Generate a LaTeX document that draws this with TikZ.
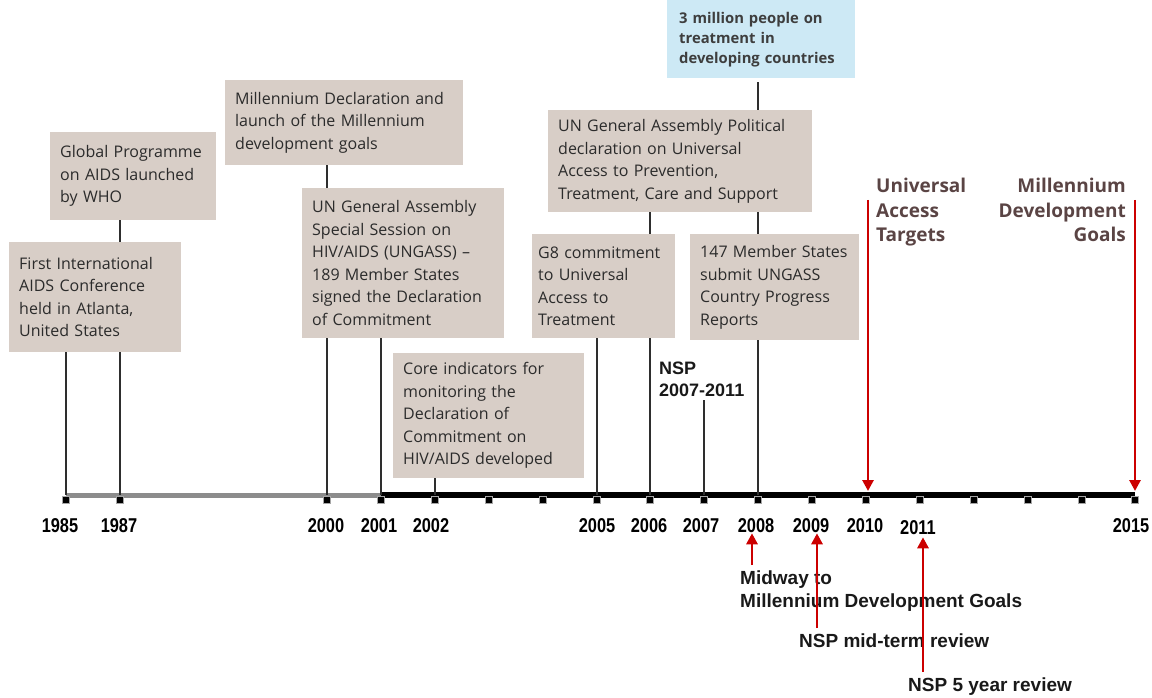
\documentclass[tikz,border=0pt]{standalone}
\usepackage{fontspec}
\usetikzlibrary{arrows.meta}
\newfontfamily\boxfont{Open Sans}
\newfontfamily\narrowfont[FakeStretch=0.82]{Liberation Sans}
\newfontfamily\arialfont{Liberation Sans}
\definecolor{boxfill}{HTML}{D8CEC7}
\definecolor{bluefill}{HTML}{CDE9F5}
\definecolor{boxtext}{HTML}{2B2B2B}
\definecolor{bluetext}{HTML}{3E3E3E}
\definecolor{goalbrown}{HTML}{5A4444}
\definecolor{arrowred}{HTML}{CC0000}
\definecolor{axisgray}{HTML}{8C8C8C}
\definecolor{linedark}{HTML}{2E2E2E}
\begin{document}
\begin{tikzpicture}[x=1pt,y=-1pt,
  box/.style={fill=boxfill, anchor=north west, align=left, inner xsep=10pt, inner ysep=0pt,
    text=boxtext, font=\boxfont\fontsize{16}{22.5}\selectfont},
  stem/.style={draw=linedark, line width=2.8pt},
  redarrow/.style={draw=arrowred, line width=2.8pt, -{Triangle[length=11pt,width=11pt]}},
  yearlab/.style={font=\narrowfont\bfseries\fontsize{20}{22}\selectfont, text=black, inner sep=0pt},
  bottomlab/.style={font=\arialfont\bfseries\fontsize{19}{22.5}\selectfont, align=left, anchor=north west, inner sep=0pt, text=black!90},
  goallab/.style={font=\boxfont\bfseries\fontsize{19}{24.5}\selectfont, text=goalbrown, inner sep=0pt},
  tickmark/.style={fill=black, draw=black!35, line width=0.7pt, minimum size=7pt, inner sep=0pt}
]
\useasboundingbox (0,0) rectangle (1152,698);

% tick coordinates on the axis
\foreach \yr/\xx in {1985/66,1987/120,2000/327,2001/381,2002/435,2003/489,2004/543,2005/597,2006/650,2007/704,2008/758,2009/812,2010/866,2011/920,2012/974,2013/1028,2014/1082,2015/1135}
  \coordinate (t\yr) at (\xx,495);

% axis
\draw[axisgray, line width=5pt] (t1985) -- (t2001);
\draw[black, line width=6pt] (t2001) -- (t2015);
\foreach \yr in {1985,1987,2000,2001,2002,2003,2004,2005,2006,2007,2008,2009,2010,2011,2012,2013,2014,2015}
  \node[tickmark] (m\yr) at ([yshift=-5pt]t\yr) {};

% year labels
\foreach \yr/\xx in {1985/60,1987/119,2000/326,2001/379,2002/431,2005/597,2006/649,2007/701,2008/756,2009/811,2010/865,2015/1131}
  \node[yearlab] (y\yr) at (\xx,526) {\yr};
\node[yearlab] (y2011) at (918,528) {2011};

% boxes
\node[box, text width=152pt, minimum height=110pt] (b1) at (9,242) {First International\\AIDS Conference\\held in Atlanta,\\United States};
\node[box, text width=146pt, minimum height=88pt] (b2) at (50,132) {Global Programme\\on AIDS launched\\by WHO};
\node[box, text width=218pt, minimum height=85pt] (b3) at (225,80) {Millennium Declaration and\\launch of the Millennium\\development goals};
\node[box, text width=182pt, minimum height=150pt] (b4) at (302,188) {UN General Assembly\\Special Session on\\HIV/AIDS (UNGASS) –\\189 Member States\\signed the Declaration\\of Commitment};
\node[box, text width=171pt, minimum height=125pt] (b5) at (393,353) {Core indicators for\\monitoring the\\Declaration of\\Commitment on\\HIV/AIDS developed};
\node[box, text width=244pt, minimum height=102pt] (b6) at (548,110) {UN General Assembly Political\\declaration on Universal\\Access to Prevention,\\Treatment, Care and Support};
\node[box, inner xsep=6pt, text width=131pt, minimum height=104pt] (b7) at (532,234) {G8 commitment\\to Universal\\Access to\\Treatment};
\node[box, text width=149pt, minimum height=106pt] (b8) at (690,234) {147 Member States\\submit UNGASS\\Country Progress\\Reports};
\node[box, fill=bluefill, text=bluetext, inner xsep=12pt, text width=164pt, minimum height=78pt,
  font=\boxfont\bfseries\fontsize{14.8}{20}\selectfont] (b9) at (667,0) {3 million people on\\treatment in\\developing countries};

% NSP label
\node[bottomlab, font=\arialfont\bfseries\fontsize{18}{22}\selectfont] (nsp) at (659,362) {NSP\\2007-2011};

% stems
\draw[stem] (b1.south -| t1985) -- (t1985);
\draw[stem] (b2.south -| t1987) -- (b1.north -| t1987);
\draw[stem] (b1.south -| t1987) -- (t1987);
\draw[stem] (b3.south -| t2000) -- (b4.north -| t2000);
\draw[stem] (b4.south -| t2000) -- (t2000);
\draw[stem] (b4.south -| t2001) -- (t2001);
\draw[stem] (b5.south -| t2002) -- (t2002);
\draw[stem] (b7.south -| t2005) -- (t2005);
\draw[stem] (b6.south -| t2006) -- (b7.north -| t2006);
\draw[stem] (b7.south -| t2006) -- (t2006);
\draw[stem, shorten <=3pt] (nsp.south -| t2007) -- (t2007);
\draw[stem, line width=2.2pt, shorten <=4pt] (b9.south -| t2008) -- (b6.north -| t2008);
\draw[stem, line width=2.2pt] (b6.south -| t2008) -- (b8.north -| t2008);
\draw[stem, line width=2.2pt] (b8.south -| t2008) -- (t2008);

% goal labels and arrows
\node[goallab, anchor=north west, align=left] (uat) at (876,178) {Universal\\Access\\Targets};
\node[goallab, anchor=north east, align=right] (mdg) at (1126,178) {Millennium\\Development\\Goals};
\coordinate (ua) at (868,200);
\coordinate (mg) at (1135,200);
\draw[redarrow, shorten >=4pt] (ua) -- (ua |- t2010);
\draw[redarrow, shorten >=4pt] (mg) -- (mg |- t2015);

% bottom labels and arrows
\node[bottomlab] (mid) at (740,571) {Midway to\\Millennium Development Goals};
\node[bottomlab] (mtr) at (799,634) {NSP mid-term review};
\node[bottomlab] (fyr) at (908,678) {NSP 5 year review};
\coordinate (a2008) at (752,565);
\coordinate (a2009) at (817,628);
\coordinate (a2011) at (923,672);
\draw[redarrow] (a2008) -- (a2008 |- y2008.south);
\draw[redarrow] (a2009) -- (a2009 |- y2009.south);
\draw[redarrow, shorten >=2pt] (a2011) -- (a2011 |- y2011.south);
\end{tikzpicture}
\end{document}
